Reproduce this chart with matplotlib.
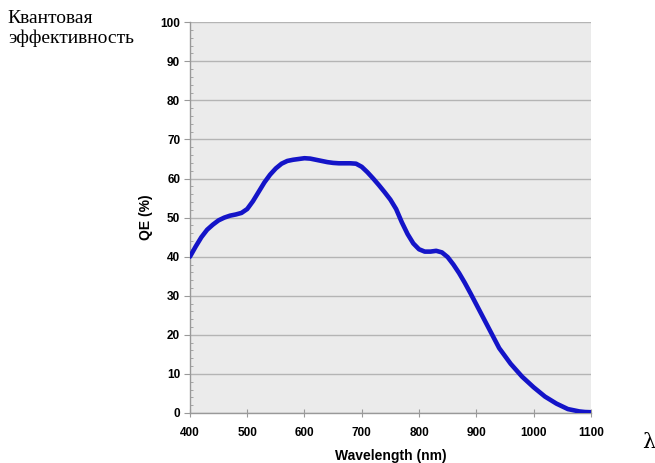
import matplotlib
matplotlib.use("Agg")
import matplotlib.pyplot as plt
from matplotlib.ticker import MultipleLocator

wavelength = [400, 410, 420, 430, 440, 450, 460, 470, 480, 490, 500, 510, 520, 530, 540,
              550, 560, 570, 580, 590, 600, 610, 620, 630, 640, 650, 660, 670, 680, 690,
              700, 710, 720, 730, 740, 750, 760, 770, 780, 790, 800, 810, 820, 830, 840,
              850, 860, 870, 880, 890, 900, 920, 940, 960, 980, 1000, 1020, 1040, 1060,
              1080, 1090, 1100]
qe = [40.0, 42.6, 45.0, 46.9, 48.2, 49.3, 50.0, 50.5, 50.8, 51.2, 52.2, 54.2, 56.6, 59.0, 61.0,
      62.6, 63.8, 64.5, 64.8, 65.0, 65.2, 65.1, 64.8, 64.5, 64.2, 64.0, 63.9, 63.9, 63.9, 63.8,
      63.0, 61.6, 60.0, 58.3, 56.5, 54.6, 52.2, 48.8, 45.8, 43.4, 41.9, 41.3, 41.3, 41.5, 41.1,
      39.9, 38.0, 35.8, 33.3, 30.6, 27.8, 22.2, 16.6, 12.6, 9.3, 6.6, 4.2, 2.4, 1.0,
      0.4, 0.25, 0.2]

x_ticks = [400, 500, 600, 700, 800, 900, 1000, 1100]
y_ticks = [0, 10, 20, 30, 40, 50, 60, 70, 80, 90, 100]

fig = plt.figure(figsize=(6.55, 4.63), dpi=100)
ax = fig.add_axes([0.290, 0.108, 0.612, 0.844])
ax.set_facecolor("#ebebeb")
ax.plot(wavelength, qe, color="#1414c8", linewidth=3.3, solid_capstyle="round", zorder=3)

ax.set_xlim(400, 1100)
ax.set_ylim(0, 100)
ax.set_xticks(x_ticks)
ax.set_yticks(y_ticks)
ax.yaxis.set_minor_locator(MultipleLocator(2))
ax.grid(axis="y", which="major", color="#b4b4b4", linewidth=1.0)
ax.set_axisbelow(True)

for s in ["top", "right"]:
    ax.spines[s].set_visible(False)
for s in ["left", "bottom"]:
    ax.spines[s].set_color("#999999")
    ax.spines[s].set_linewidth(1.0)

ax.tick_params(axis="x", which="major", direction="inout", length=6, color="#999999",
               labelsize=8.5, pad=7)
ax.tick_params(axis="y", which="major", direction="out", length=4, color="#999999",
               labelsize=8.5, pad=3)
ax.tick_params(axis="y", which="minor", direction="in", length=2, color="#999999")
for lab in ax.get_xticklabels() + ax.get_yticklabels():
    lab.set_fontweight("bold")
    lab.set_family("Liberation Sans")

ax.set_xlabel("Wavelength (nm)", fontsize=10, fontweight="bold", family="Liberation Sans",
              labelpad=7)
ax.set_ylabel("QE (%)", fontsize=10, fontweight="bold", family="Liberation Sans", labelpad=5)

fig.text(0.012, 0.978, "Квантовая\nэффективность", fontsize=14, family="Liberation Serif",
         va="top", ha="left", linespacing=1.2)
fig.text(0.990, 0.045, "λ", fontsize=15, family="DejaVu Serif", va="center", ha="center")

fig.savefig("out.png", dpi=100)
